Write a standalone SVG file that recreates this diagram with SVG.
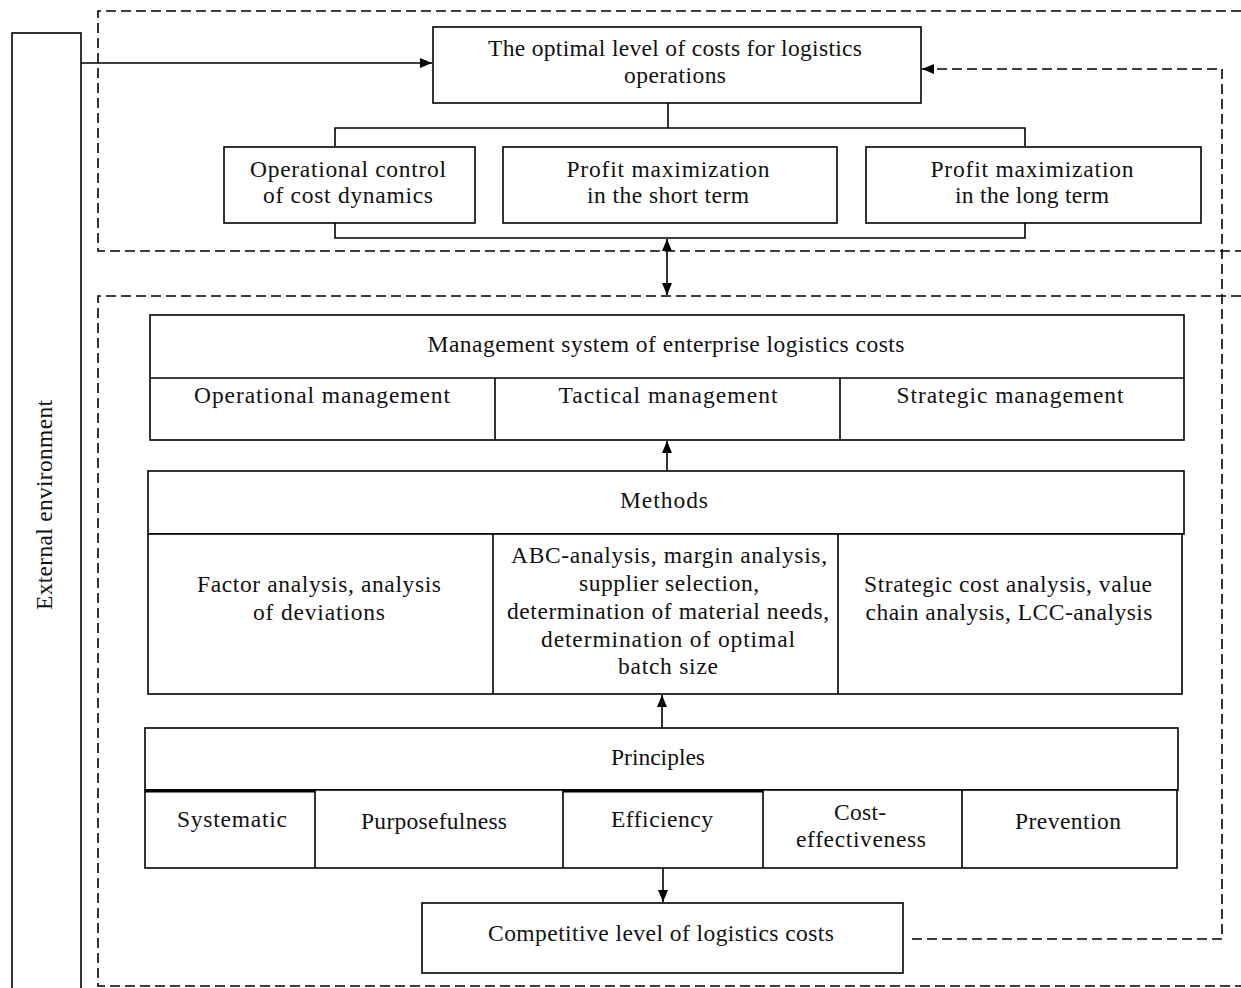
<svg xmlns="http://www.w3.org/2000/svg" width="1241" height="988" viewBox="0 0 1241 988">
<style>
.box{fill:#fff;stroke:#000;stroke-width:1.6}
.ln{fill:none;stroke:#000;stroke-width:1.6}
.dash{fill:none;stroke:#000;stroke-width:1.6;stroke-dasharray:10 5}
text{font-family:"Liberation Serif","Times New Roman",serif;font-size:23.5px;fill:#111;text-anchor:middle}
</style>
<defs>
<marker id="ah" viewBox="0 0 12 10" refX="12" refY="5" markerWidth="12" markerHeight="10" markerUnits="userSpaceOnUse" orient="auto-start-reverse">
<path d="M0,0 L12,5 L0,10 Z" fill="#000"/>
</marker>
</defs>
<rect width="1241" height="988" fill="#fff"/>

<g id="frames">
<path class="dash" d="M1241 11 H98 V251 H1241"/>
<path class="dash" d="M1241 296 H98 V986 H1241"/>
</g>

<g id="external">
<rect class="box" x="12" y="33" width="69" height="970"/>
<text transform="translate(52,505) rotate(-90)" textLength="210">External environment</text>
</g>

<g id="connectors">
<path class="ln" d="M81 63 H432" marker-end="url(#ah)"/>
<path class="ln" d="M668 103 V128 M335 146 V128 H1025 V146"/>
<path class="ln" d="M335 223 V238 H1025 V223"/>
<path class="ln" d="M667 239 V295" marker-start="url(#ah)" marker-end="url(#ah)"/>
<path class="ln" d="M667 471 V441" marker-end="url(#ah)"/>
<path class="ln" d="M662 728 V695" marker-end="url(#ah)"/>
<path class="ln" d="M663 868 V902" marker-end="url(#ah)"/>
<path class="dash" d="M912 939 H1222 V69 H922" marker-end="url(#ah)"/>
</g>

<g id="optimal">
<rect class="box" x="433" y="27" width="488" height="76"/>
<text x="675" y="56" textLength="374">The optimal level of costs for logistics</text>
<text x="675" y="83" textLength="102">operations</text>
</g>

<g id="operational-control">
<rect class="box" x="224" y="147" width="251" height="76"/>
<text x="348" y="177" textLength="196">Operational control</text>
<text x="348" y="203" textLength="170">of cost dynamics</text>
</g>

<g id="profit-short">
<rect class="box" x="503" y="147" width="334" height="76"/>
<text x="668" y="177" textLength="203">Profit maximization</text>
<text x="668" y="203" textLength="162">in the short term</text>
</g>

<g id="profit-long">
<rect class="box" x="866" y="147" width="335" height="76"/>
<text x="1032" y="177" textLength="203">Profit maximization</text>
<text x="1032" y="203" textLength="154">in the long term</text>
</g>

<g id="management">
<rect class="box" x="150" y="315" width="1034" height="125"/>
<path class="ln" d="M150 378 H1184 M495 378 V440 M840 378 V440"/>
<text x="666" y="352" textLength="477">Management system of enterprise logistics costs</text>
<text x="322" y="403" textLength="256">Operational management</text>
<text x="668" y="403" textLength="219">Tactical management</text>
<text x="1010" y="403" textLength="227">Strategic management</text>
</g>

<g id="methods">
<rect class="box" x="148" y="471" width="1036" height="63"/>
<rect class="box" x="148" y="534" width="1034" height="160"/>
<path class="ln" d="M493 534 V694 M838 534 V694"/>
<text x="664" y="508" textLength="88">Methods</text>
<text x="319" y="592" textLength="244">Factor analysis, analysis</text>
<text x="319" y="620" textLength="132">of deviations</text>
<text x="669" y="563" textLength="316">ABC-analysis, margin analysis,</text>
<text x="669" y="591" textLength="180">supplier selection,</text>
<text x="668" y="619" textLength="322">determination of material needs,</text>
<text x="668" y="647" textLength="254">determination of optimal</text>
<text x="668" y="674" textLength="100">batch size</text>
<text x="1008" y="592" textLength="288">Strategic cost analysis, value</text>
<text x="1009" y="620" textLength="287">chain analysis, LCC-analysis</text>
</g>

<g id="principles">
<rect class="box" x="145" y="728" width="1033" height="62"/>
<rect class="box" x="145" y="790" width="1032" height="78"/>
<path class="ln" d="M315 790 V868 M563 790 V868 M763 790 V868 M962 790 V868"/>
<path class="ln" style="stroke-width:3" d="M145 791 H315 M563 791 H763"/>
<text x="658" y="765" textLength="94">Principles</text>
<text x="232" y="827" textLength="110">Systematic</text>
<text x="434" y="829" textLength="146">Purposefulness</text>
<text x="662" y="827" textLength="102">Efficiency</text>
<text x="860" y="820" textLength="52">Cost-</text>
<text x="861" y="847" textLength="130">effectiveness</text>
<text x="1068" y="829" textLength="106">Prevention</text>
</g>

<g id="competitive">
<rect class="box" x="422" y="903" width="481" height="70"/>
<text x="661" y="941" textLength="346">Competitive level of logistics costs</text>
</g>
</svg>
